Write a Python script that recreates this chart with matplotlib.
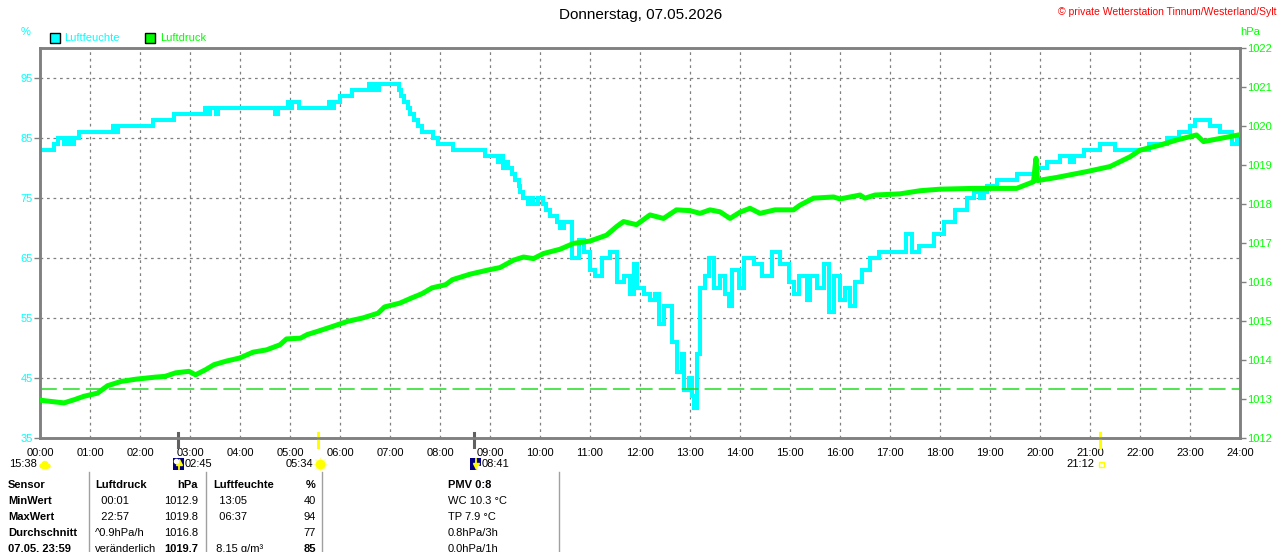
import numpy as np
import matplotlib
matplotlib.use('Agg')
import matplotlib.pyplot as plt
from matplotlib.patches import Rectangle, Ellipse

plt.rcParams['font.family'] = ['Liberation Sans', 'DejaVu Sans']

# Luftfeuchte (%), Zeit in Stunden
hum_t = [0.00, 0.27, 0.35, 0.47, 0.53, 0.60, 0.67, 0.77, 1.45, 1.50, 1.55, 2.25, 2.67,
         3.30, 3.33, 3.40, 3.52, 3.55, 4.70, 4.75, 4.95, 5.00, 5.03, 5.17, 5.77, 5.82,
         5.87, 6.00, 6.23, 6.58, 6.62, 6.67, 6.72, 6.77, 7.17, 7.22, 7.28, 7.35, 7.40,
         7.47, 7.55, 7.63, 7.85, 7.95, 8.25, 8.90, 9.15, 9.20, 9.25, 9.30, 9.35, 9.43,
         9.50, 9.57, 9.60, 9.65, 9.75, 9.80, 9.85, 9.95, 10.05, 10.12, 10.20, 10.27,
         10.33, 10.40, 10.48, 10.53, 10.63, 10.77, 10.87, 11.00, 11.10, 11.23, 11.40,
         11.53, 11.67, 11.80, 11.87, 11.93, 12.07, 12.20, 12.30, 12.37, 12.47, 12.57,
         12.63, 12.73, 12.83, 12.87, 12.97, 13.03, 13.08, 13.13, 13.20, 13.30, 13.37,
         13.47, 13.60, 13.70, 13.77, 13.83, 13.97, 14.07, 14.27, 14.43, 14.63, 14.80,
         14.97, 15.07, 15.17, 15.33, 15.40, 15.53, 15.67, 15.77, 15.87, 16.00, 16.10,
         16.20, 16.30, 16.43, 16.60, 16.77, 17.00, 17.17, 17.33, 17.43, 17.57, 17.87,
         18.07, 18.30, 18.53, 18.67, 18.80, 18.87, 18.93, 19.13, 19.53, 19.93, 20.13,
         20.40, 20.60, 20.67, 20.87, 21.20, 21.50, 22.17, 22.53, 22.77, 23.00, 23.10,
         23.40, 23.60, 23.83, 23.93, 24.00]
hum_v = [83, 84, 85, 84, 85, 84, 85, 86, 87, 86, 87, 88, 89,
         90, 89, 90, 89, 90, 89, 90, 91, 90, 91, 90, 91, 90,
         91, 92, 93, 94, 93, 94, 93, 94, 93, 92, 91, 90, 89,
         88, 87, 86, 85, 84, 83, 82, 81, 82, 80, 81, 80, 79,
         78, 77, 76, 75, 74, 75, 74, 75, 74, 73, 72, 72,
         71, 70, 71, 71, 65, 68, 66, 63, 62, 65, 66,
         61, 62, 59, 64, 60, 59, 58, 59, 54, 57, 57,
         51, 46, 49, 43, 45, 42, 40, 49, 60, 62, 65,
         60, 62, 59, 57, 63, 60, 65, 64, 62, 66, 64,
         61, 59, 62, 58, 62, 60, 64, 56, 62, 58, 60,
         57, 61, 63, 65, 66, 66, 66, 69, 66, 67, 69,
         71, 73, 75, 76, 75, 76, 77, 78, 79, 80, 81,
         82, 81, 82, 83, 84, 83, 84, 85, 86, 87, 88,
         87, 86, 84, 85, 85]

# Luftdruck (hPa)
prs_t = [0.00, 0.20, 0.48, 0.68, 0.88, 1.15, 1.35, 1.62, 1.93, 2.30, 2.50, 2.71, 2.98,
         3.11, 3.31, 3.48, 3.72, 3.99, 4.26, 4.53, 4.80, 4.93, 5.21, 5.34, 5.54, 5.85,
         6.15, 6.46, 6.76, 6.89, 7.20, 7.43, 7.64, 7.84, 8.11, 8.25, 8.60, 8.97, 9.20,
         9.47, 9.67, 9.87, 10.07, 10.40, 10.67, 11.00, 11.33, 11.53, 11.67, 11.93, 12.20,
         12.47, 12.73, 13.00, 13.20, 13.40, 13.60, 13.80, 14.00, 14.20, 14.40, 14.70,
         15.07, 15.20, 15.47, 15.87, 16.00, 16.40, 16.50, 16.70, 17.20, 17.60, 18.00,
         18.67, 19.53, 19.87, 19.92, 19.95, 20.33, 20.93, 21.40, 21.80, 22.00, 22.40,
         22.73, 23.13, 23.27, 23.60, 23.97]
prs_v = [1012.97, 1012.94, 1012.90, 1012.98, 1013.07, 1013.15, 1013.34, 1013.45, 1013.51,
         1013.56, 1013.58, 1013.67, 1013.71, 1013.62, 1013.75, 1013.88, 1013.97, 1014.05,
         1014.20, 1014.26, 1014.39, 1014.54, 1014.56, 1014.65, 1014.73, 1014.86, 1014.99,
         1015.08, 1015.20, 1015.36, 1015.46, 1015.59, 1015.70, 1015.85, 1015.93, 1016.06,
         1016.20, 1016.31, 1016.37, 1016.56, 1016.64, 1016.60, 1016.73, 1016.84, 1016.99,
         1017.05, 1017.20, 1017.42, 1017.55, 1017.47, 1017.72, 1017.63, 1017.85, 1017.83,
         1017.76, 1017.85, 1017.80, 1017.63, 1017.79, 1017.89, 1017.76, 1017.85, 1017.85,
         1017.97, 1018.15, 1018.18, 1018.13, 1018.23, 1018.15, 1018.23, 1018.26, 1018.34,
         1018.38, 1018.40, 1018.40, 1018.57, 1019.17, 1018.60, 1018.68, 1018.83, 1018.96,
         1019.21, 1019.38, 1019.51, 1019.64, 1019.77, 1019.60, 1019.68, 1019.77]
normaldruck = 1013.25

hum_ticks = [35, 45, 55, 65, 75, 85, 95]
prs_ticks = [1012, 1013, 1014, 1015, 1016, 1017, 1018, 1019, 1020, 1021, 1022]
stunden = list(range(25))
stunden_labels = ['%02d:00' % h for h in stunden]

# Sonne / Mond
ereignis_t = [2.75, 5.5667, 8.6833, 21.2]
ereignis_farbe = ['#606060', '#ffff00', '#606060', '#ffff00']

titel = 'Donnerstag, 07.05.2026'
copyright_text = '\u00a9 private Wetterstation Tinnum/Westerland/Sylt'

tab_sensor = ['Sensor', 'MinWert', 'MaxWert', 'Durchschnitt', '07.05. 23:59']
tab_druck_zeit = ['Luftdruck', '  00:01', '  22:57', '^0.9hPa/h', 'veränderlich']
tab_druck_wert = ['hPa', '1012.9', '1019.8', '1016.8', '1019.7']
tab_feuchte_zeit = ['Luftfeuchte', '  13:05', '  06:37', '', ' 8.15 g/m\u00b3']
tab_feuchte_wert = ['%', '40', '94', '77', '85']
tab_pmv = ['PMV 0:8', 'WC 10.3 °C', 'TP 7.9 °C', '0.8hPa/3h', '0.0hPa/1h']

CYAN = '#00ffff'
GRUEN = '#00ff00'
GRAU = '#808080'

fig = plt.figure(figsize=(12.8, 5.52), dpi=100)
ax = fig.add_axes([40/1280, 1-438/552, 1200/1280, 390/552])
ax2 = ax.twinx()

ax.set_xlim(0, 24)
ax.set_ylim(35, 100)
ax2.set_ylim(1012, 1022)

ax.set_axisbelow(True)
ax.grid(True, color=GRAU, linestyle=(0, (2.2, 3)), linewidth=0.9)
ax.set_xticks(stunden)
ax.set_xticklabels(stunden_labels)
ax.set_yticks(hum_ticks)
ax.tick_params(axis='x', length=0, pad=7, labelsize=8, labelcolor='black')
ax.tick_params(axis='y', length=4, color=GRAU, width=1, pad=1, labelsize=8, labelcolor=CYAN)
ax2.set_yticks(prs_ticks)
ax2.tick_params(axis='y', length=4, color=GRAU, width=1, pad=1, labelsize=8, labelcolor=GRUEN)

for a in (ax, ax2):
    for s in a.spines.values():
        s.set_color(GRAU)
        s.set_linewidth(1.8)

ax.plot(hum_t, hum_v, color=CYAN, lw=2.9, drawstyle='steps-post', solid_joinstyle='miter')
ax2.axhline(normaldruck, color='#22dd22', lw=1.1, linestyle=(0, (11, 4)), zorder=1)
ax2.plot(prs_t, prs_v, color=GRUEN, lw=3.6, zorder=3)

# Sonnen-/Mondmarken an der Zeitachse
for t, c in zip(ereignis_t, ereignis_farbe):
    ax.plot([t, t], [0.013, -0.024], color=c, lw=2.2, transform=ax.get_xaxis_transform(),
            clip_on=False, zorder=5)

# Overlay in Pixelkoordinaten
ov = fig.add_axes([0, 0, 1, 1], zorder=10)
ov.set_xlim(0, 1280)
ov.set_ylim(552, 0)
ov.axis('off')
ov.patch.set_alpha(0)

ov.text(641, 15, titel, ha='center', va='center', fontsize=11, color='black')
ov.text(1277, 12, copyright_text, ha='right', va='center', fontsize=7.5, color='red')

ov.text(26, 32, '%', ha='center', va='center', fontsize=8, color=CYAN)
ov.add_patch(Rectangle((50, 33), 10, 10, facecolor=CYAN, edgecolor='black', lw=1))
ov.text(64, 38, 'Luftfeuchte', ha='left', va='center', fontsize=8, color=CYAN)
ov.add_patch(Rectangle((145, 33), 10, 10, facecolor=GRUEN, edgecolor='black', lw=1))
ov.text(160, 38, 'Luftdruck', ha='left', va='center', fontsize=8, color=GRUEN)
ov.text(1250, 32, 'hPa', ha='center', va='center', fontsize=8, color=GRUEN)

# Symbole unter der Zeitachse
ov.text(37, 464, '15:38', ha='right', va='center', fontsize=8)
ov.add_patch(Ellipse((45, 466), 10, 5, color='#ffff00'))
ov.add_patch(Ellipse((45, 463.5), 5, 4, color='#ffff00'))

ov.add_patch(Rectangle((173, 458), 11, 12, facecolor='#000080', edgecolor='none'))
ov.plot([179, 179], [469, 462], color='#ffff00', lw=1.3)
ov.plot(179, 462, marker='^', ms=4, color='#ffff00')
ov.plot(175.5, 460.5, marker='o', ms=3, color='white')
ov.text(185, 464, '02:45', ha='left', va='center', fontsize=8)

ov.text(313, 464, '05:34', ha='right', va='center', fontsize=8)
ov.plot(320, 464, marker='+', ms=10, color='#ffff99', mew=1)
ov.plot(320, 464, marker='x', ms=7, color='#ffff99', mew=1)
ov.plot(320, 464, marker='o', ms=6, color='#ffff00')

ov.add_patch(Rectangle((470, 458), 11, 12, facecolor='#000080', edgecolor='none'))
ov.plot([475.5, 475.5], [459, 466], color='#ffff00', lw=1.3)
ov.plot(475.5, 466, marker='v', ms=4, color='#ffff00')
ov.plot(478.5, 468, marker='o', ms=3, color='white')
ov.text(482, 464, '08:41', ha='left', va='center', fontsize=8)

ov.text(1094, 464, '21:12', ha='right', va='center', fontsize=8)
ov.add_patch(Rectangle((1099, 461.5), 4.5, 5, facecolor='none', edgecolor='#ffff00', lw=1))

# Tabelle
for xs in [89, 206, 322, 559]:
    ov.plot([xs, xs], [472, 552], color='#a0a0a0', lw=1)

zeilen_y = [484.5, 500.5, 516.5, 532.5, 548.5]
for i, y in enumerate(zeilen_y):
    kopf = 'bold' if i == 0 else 'normal'
    ov.text(8, y, tab_sensor[i], ha='left', va='center', fontsize=8, fontweight='bold')
    ov.text(95, y, tab_druck_zeit[i], ha='left', va='center', fontsize=8, fontweight=kopf)
    ov.text(198, y, tab_druck_wert[i], ha='right', va='center', fontsize=8,
            fontweight='bold' if i in (0, 4) else 'normal')
    ov.text(213, y, tab_feuchte_zeit[i], ha='left', va='center', fontsize=8, fontweight=kopf)
    ov.text(316, y, tab_feuchte_wert[i], ha='right', va='center', fontsize=8,
            fontweight='bold' if i in (0, 4) else 'normal')
    ov.text(448, y, tab_pmv[i], ha='left', va='center', fontsize=8, fontweight=kopf)

fig.savefig('out.png', dpi=100)
